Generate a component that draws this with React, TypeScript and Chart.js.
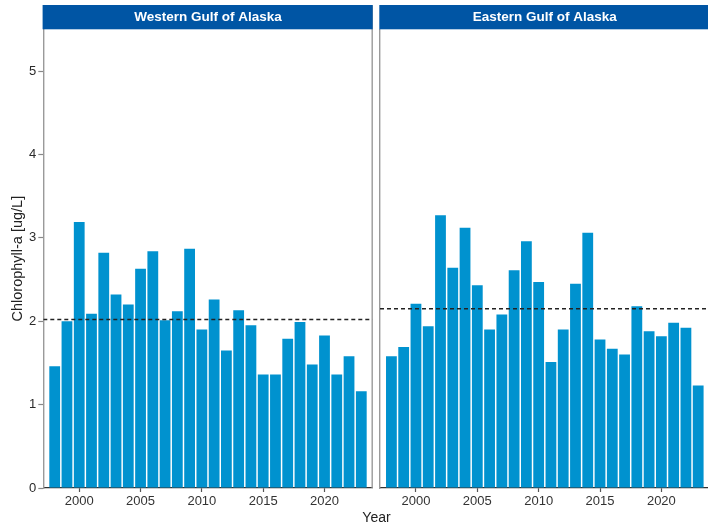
import React, { useEffect, useRef } from "react";
import { Chart, registerables } from "chart.js";

Chart.register(...registerables);

const years = [
  1998, 1999, 2000, 2001, 2002, 2003, 2004, 2005, 2006, 2007, 2008, 2009, 2010,
  2011, 2012, 2013, 2014, 2015, 2016, 2017, 2018, 2019, 2020, 2021, 2022, 2023,
];
const westernValues = [
  1.46, 2.0, 3.19, 2.09, 2.82, 2.32, 2.2, 2.63, 2.84, 2.01, 2.12, 2.87, 1.9,
  2.26, 1.65, 2.13, 1.95, 1.36, 1.36, 1.79, 1.99, 1.48, 1.83, 1.36, 1.58, 1.16,
];
const easternValues = [
  1.58, 1.69, 2.21, 1.94, 3.27, 2.64, 3.12, 2.43, 1.9, 2.08, 2.61, 2.96, 2.47,
  1.51, 1.9, 2.45, 3.06, 1.78, 1.67, 1.6, 2.18, 1.88, 1.82, 1.98, 1.92, 1.23,
];
const westernMean = 2.02;
const easternMean = 2.15;
const panelTitles = ["Western Gulf of Alaska", "Eastern Gulf of Alaska"];
const xTicks = [2000, 2005, 2010, 2015, 2020];
const yTicks = [0, 1, 2, 3, 4, 5];
const yLabel = "Chlorophyll-a [ug/L]";
const xLabel = "Year";
const xRange = [1997.07, 2023.93];
const yRange = [0, 5.5];

const FONT = '"Liberation Sans", Arial, Helvetica, sans-serif';
const BAR_COLOR = "#0092CF";
const STRIP_COLOR = "#0055A4";

const stripPlugin = {
  id: "strip",
  afterDraw(chart: any, _args: any, opts: any) {
    const { ctx, chartArea } = chart;
    const { left, right, top, bottom } = chartArea;
    ctx.save();
    ctx.strokeStyle = "#9a9a9a";
    ctx.lineWidth = 1.4;
    ctx.beginPath();
    ctx.moveTo(right - 0.5, top - 24);
    ctx.lineTo(right - 0.5, bottom);
    ctx.stroke();
    ctx.fillStyle = STRIP_COLOR;
    ctx.fillRect(left - 0.7, top - 24.3, right - left + 0.7, 24.3);
    ctx.fillStyle = "#ffffff";
    ctx.font = `bold 13.5px ${FONT}`;
    ctx.textAlign = "center";
    ctx.textBaseline = "middle";
    ctx.fillText(opts.text || "", (left + right) / 2, top - 12);
    ctx.restore();
  },
};

function makeConfig(
  values: number[],
  mean: number,
  title: string,
  isLeft: boolean,
  padRight: number
): any {
  return {
    type: "bar",
    data: {
      datasets: [
        {
          type: "line",
          data: [
            { x: xRange[0], y: mean },
            { x: xRange[1], y: mean },
          ],
          borderColor: "#222222",
          borderWidth: 1.4,
          borderDash: [4, 3],
          pointRadius: 0,
          fill: false,
          order: 0,
        },
        {
          type: "bar",
          data: years.map((yr, i) => ({ x: yr, y: values[i] })),
          backgroundColor: BAR_COLOR,
          borderWidth: 0,
          barPercentage: 0.88,
          categoryPercentage: 1,
          order: 1,
        },
      ],
    },
    options: {
      responsive: false,
      animation: false,
      devicePixelRatio: 1,
      layout: { padding: { left: 0, right: padRight, top: 29.3, bottom: 0 } },
      plugins: {
        legend: { display: false },
        tooltip: { enabled: false },
        strip: { text: title },
      },
      scales: {
        x: {
          type: "linear",
          offset: false,
          min: xRange[0],
          max: xRange[1],
          afterBuildTicks: (s: any) => {
            s.ticks = xTicks.map((v) => ({ value: v }));
          },
          afterFit: (s: any) => {
            s.height = 39;
          },
          grid: {
            offset: false,
            drawOnChartArea: false,
            drawTicks: true,
            tickLength: 4,
            tickColor: "#555555",
            tickWidth: 1.2,
          },
          border: { display: true, color: "#333333", width: 1.3 },
          ticks: {
            color: "#333333",
            font: { size: 13, family: FONT },
            padding: 2,
            maxRotation: 0,
            autoSkip: false,
            callback: (v: any) => String(v),
          },
        },
        y: {
          type: "linear",
          min: yRange[0],
          max: yRange[1],
          afterBuildTicks: (s: any) => {
            s.ticks = yTicks.map((v) => ({ value: v }));
          },
          afterFit: (s: any) => {
            s.width = isLeft ? 43.3 : 4;
          },
          grid: {
            drawOnChartArea: false,
            drawTicks: isLeft,
            tickLength: 5,
            tickColor: "#888888",
            tickWidth: 1.2,
          },
          border: { display: true, color: "#9a9a9a", width: 1.4 },
          ticks: {
            display: isLeft,
            color: "#2a2a2a",
            font: { size: 13, family: FONT },
            padding: 2,
            callback: (v: any) => String(v),
          },
          title: {
            display: isLeft,
            text: yLabel,
            color: "#222222",
            font: { size: 14.5, family: FONT },
            padding: { top: 9, bottom: 0 },
          },
        },
      },
    },
    plugins: [stripPlugin],
  };
}

export default function App() {
  const leftRef = useRef<HTMLCanvasElement | null>(null);
  const rightRef = useRef<HTMLCanvasElement | null>(null);

  useEffect(() => {
    const charts: Chart[] = [];
    if (leftRef.current) {
      charts.push(
        new Chart(
          leftRef.current,
          makeConfig(westernValues, westernMean, panelTitles[0], true, 3.3)
        )
      );
    }
    if (rightRef.current) {
      charts.push(
        new Chart(
          rightRef.current,
          makeConfig(easternValues, easternMean, panelTitles[1], false, 6.4)
        )
      );
    }
    return () => charts.forEach((c) => c.destroy());
  }, []);

  return (
    <div
      style={{
        position: "absolute",
        left: 0,
        top: 0,
        width: 708,
        height: 527,
        overflow: "hidden",
        background: "#ffffff",
      }}
    >
      <canvas
        ref={leftRef}
        width={376}
        height={527}
        style={{ position: "absolute", left: 0, top: 0, display: "block" }}
      />
      <canvas
        ref={rightRef}
        width={340}
        height={527}
        style={{ position: "absolute", left: 376, top: 0, display: "block" }}
      />
      <div
        style={{
          position: "absolute",
          left: 0,
          width: 753,
          top: 510,
          textAlign: "center",
          fontFamily: FONT,
          fontSize: 14,
          lineHeight: "14px",
          color: "#222222",
        }}
      >
        {xLabel}
      </div>
    </div>
  );
}
